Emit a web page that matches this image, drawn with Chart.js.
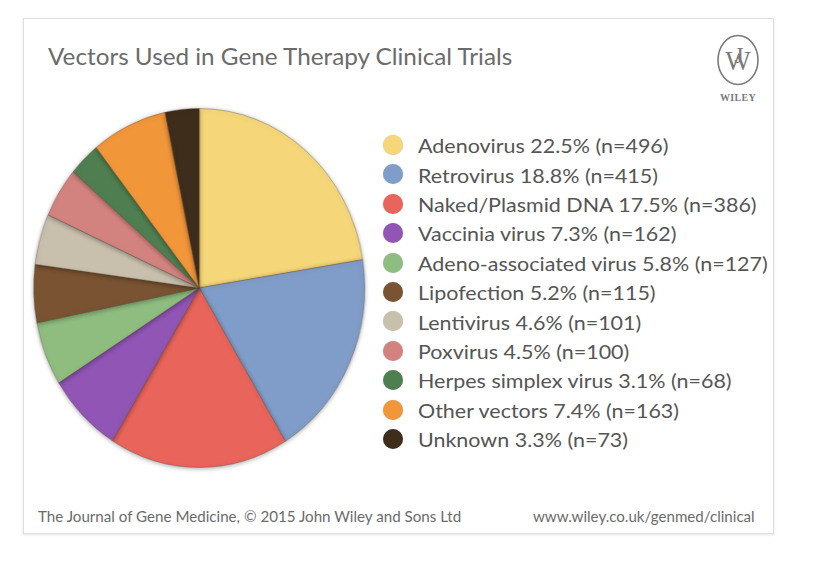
<!DOCTYPE html>
<html>
<head>
<meta charset="utf-8">
<script src="https://cdn.jsdelivr.net/npm/chart.js@4/dist/chart.umd.min.js"></script>
<style>
  html, body { margin:0; padding:0; background:#fff; width:824px; height:567px; overflow:hidden; }
  body { position:relative; font-family: Lato, "Open Sans", sans-serif; }
  #card { position:absolute; left:23px; top:18px; width:749px; height:514px; border:1px solid #dedede;
          box-shadow:0 1px 3px rgba(0,0,0,0.10); background:#fff; }
  .txt { position:absolute; white-space:nowrap; transform-origin:0 50%; line-height:1; }
  #pieWrap { position:absolute; left:24px; top:98px; width:380px; height:380px;
             transform: scaleX(0.922); transform-origin: 0 0; }
  .dot { position:absolute; width:20px; height:20px; border-radius:50%; box-shadow:0 0 1px rgba(0,0,0,0.25); }
  #logo { position:absolute; left:713px; top:33px; }
</style>
</head>
<body>
<div id="card"></div>
<div id="pieWrap"><canvas id="pie" width="380" height="380"></canvas></div>
<svg id="logo" width="50" height="72" viewBox="0 0 50 72">
  <ellipse cx="25" cy="27" rx="20" ry="24.5" fill="none" stroke="#7a7a7a" stroke-width="1.6"/>
  <text x="25" y="37" text-anchor="middle" font-family="Liberation Serif, serif" font-size="27" fill="#7a7a7a">W</text>
  <text x="26" y="30" text-anchor="middle" font-family="Liberation Serif, serif" font-size="24" fill="#7a7a7a">J</text>
  <text x="25" y="68" text-anchor="middle" font-family="Liberation Serif, serif" font-weight="bold" font-size="10" letter-spacing="0.3" fill="#7a7a7a">WILEY</text>
</svg>
<script>
// ---- Data ----
const categories = ["Adenovirus", "Retrovirus", "Naked/Plasmid DNA", "Vaccinia virus",
  "Adeno-associated virus", "Lipofection", "Lentivirus", "Poxvirus",
  "Herpes simplex virus", "Other vectors", "Unknown"];
const counts   = [496, 415, 386, 162, 127, 115, 101, 100, 68, 163, 73];
const percents = ["22.5", "18.8", "17.5", "7.3", "5.8", "5.2", "4.6", "4.5", "3.1", "7.4", "3.3"];
const colors   = ["#F5D77A", "#7F9DC8", "#E9645A", "#9155B6", "#8FBD80", "#7A5432",
  "#C8C0AD", "#D3837F", "#4F7F50", "#F2963A", "#3F2D1C"];
const titleText  = "Vectors Used in Gene Therapy Clinical Trials";
const footerLeft = "The Journal of Gene Medicine, \u00A9 2015 John Wiley and Sons Ltd";
const footerRight = "www.wiley.co.uk/genmed/clinical";

// ---- Text helpers ----
function addText(str, left, baseline, fs, color, targetW) {
  const el = document.createElement('div');
  el.className = 'txt';
  el.textContent = str;
  el.style.fontSize = fs + 'px';
  el.style.color = color;
  el.style.left = left + 'px';
  el.style.top = (baseline - fs / 2 - 0.387 * fs) + 'px';
  document.body.appendChild(el);
  if (targetW) {
    const w = el.offsetWidth;
    el.style.transform = 'scaleX(' + (targetW / w) + ')';
  }
  return el;
}

addText(titleText, 48, 65, 24, '#6b6b6b', 464);
addText(footerLeft, 38, 522, 16, '#6b6b6b', 423);
addText(footerRight, 533, 522, 16, '#6b6b6b', 222);

// ---- Legend ----
const rowY0 = 145, rowStep = 29.4;
const legendEls = [];
categories.forEach((c, i) => {
  const cy = rowY0 + i * rowStep;
  const d = document.createElement('div');
  d.className = 'dot';
  d.style.left = (393 - 10) + 'px';
  d.style.top = (cy - 10) + 'px';
  d.style.background = colors[i];
  document.body.appendChild(d);
  legendEls.push(addText(c + ' ' + percents[i] + '% (n=' + counts[i] + ')', 418, cy + 8, 20, '#555555'));
});
let maxW = 0;
legendEls.forEach(el => { if (el.offsetWidth > maxW) maxW = el.offsetWidth; });
const legScale = 350 / maxW;
legendEls.forEach(el => el.style.transform = 'scaleX(' + legScale + ')');

// ---- Pie ----
const shadowPlugin = {
  id: 'sliceShadow',
  beforeDatasetsDraw(chart) {
    const ctx = chart.ctx;
    ctx.save();
    ctx.shadowColor = 'rgba(0,0,0,0.35)';
    ctx.shadowBlur = 5;
    ctx.shadowOffsetX = 0;
    ctx.shadowOffsetY = 1;
  },
  afterDatasetsDraw(chart) { chart.ctx.restore(); }
};

new Chart(document.getElementById('pie'), {
  type: 'pie',
  data: {
    labels: categories,
    datasets: [{
      data: counts,
      backgroundColor: colors,
      borderColor: 'rgba(90,65,45,0.35)',
      borderWidth: 1
    }]
  },
  options: {
    responsive: false,
    animation: false,
    layout: { padding: 10 },
    plugins: { legend: { display: false }, tooltip: { enabled: false } }
  },
  plugins: [shadowPlugin]
});
</script>
</body>
</html>
